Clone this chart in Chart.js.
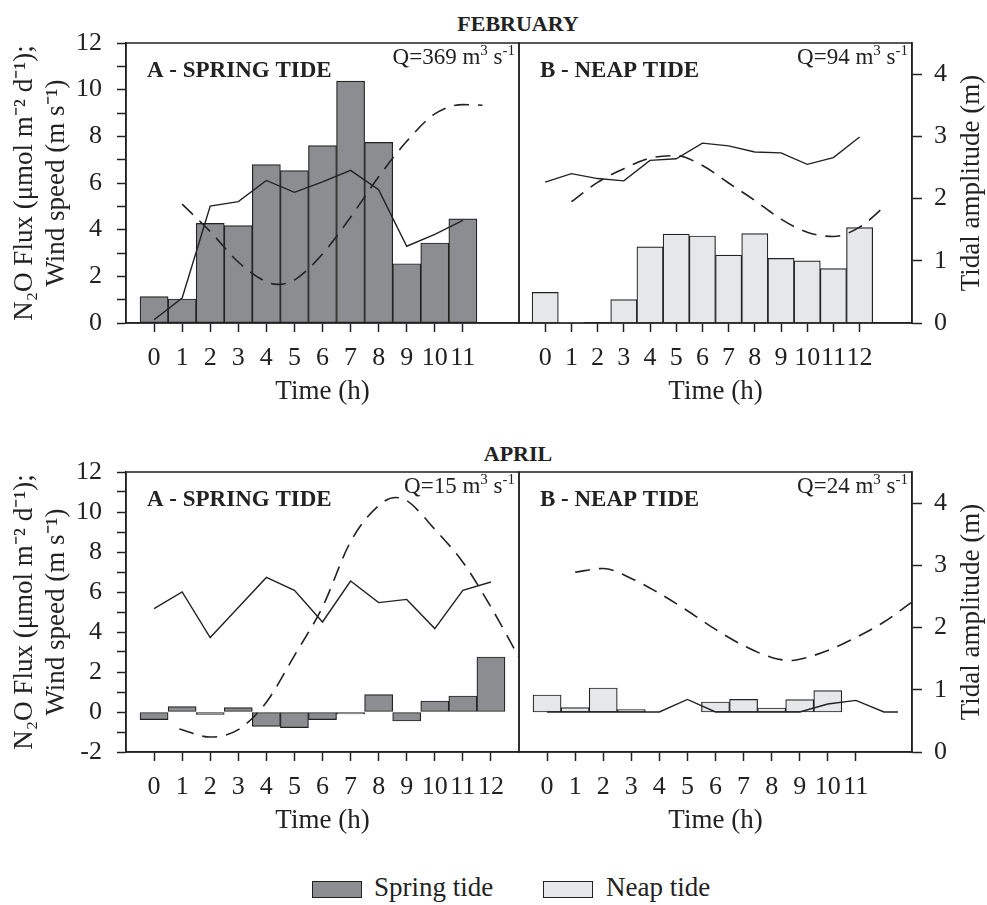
<!DOCTYPE html>
<html>
<head>
<meta charset="utf-8">
<script src="https://cdn.jsdelivr.net/npm/chart.js@4.4.1/dist/chart.umd.min.js"></script>
<style>
  body { margin: 0; background: #fff; }
  #fig { position: relative; width: 987px; height: 905px; overflow: hidden;
         font-family: 'Liberation Serif', 'Times New Roman', serif; color: #222; }
  canvas { position: absolute; }
  .month { position: absolute; font-weight: bold; font-size: 22px; line-height: 22px;
           transform: translateX(-50%); white-space: nowrap; }
  .key { position: absolute; width: 50px; height: 17px; border: 1.5px solid #222; box-sizing: border-box; }
  .keytxt { position: absolute; font-size: 27px; line-height: 27px; white-space: nowrap; }
</style>
</head>
<body>
<div id="fig">
  <div class="month" style="left:518px; top:13px">FEBRUARY</div>
  <div class="month" style="left:518px; top:443px">APRIL</div>
  <canvas id="febA" width="530" height="411" style="left:0; top:0"></canvas>
  <canvas id="febB" width="478" height="411" style="left:509px; top:0"></canvas>
  <canvas id="aprA" width="530" height="410" style="left:0; top:430px"></canvas>
  <canvas id="aprB" width="478" height="410" style="left:509px; top:430px"></canvas>
  <div class="key" style="left:312px; top:881px; background:#8c8d91"></div>
  <div class="keytxt" style="left:374px; top:874px">Spring tide</div>
  <div class="key" style="left:543px; top:881px; background:#e6e7e9"></div>
  <div class="keytxt" style="left:606px; top:874px">Neap tide</div>
</div>
<script>
const FONT = 'Liberation Serif';
const INK = '#222';
const SPRING_FILL = '#8c8d91';
const NEAP_FILL = '#e6e7e9';

// February - A, spring tide
const febSpringHours = [0, 1, 2, 3, 4, 5, 6, 7, 8, 9, 10, 11];
const febSpringFlux = [1.13, 1.03, 4.27, 4.17, 6.79, 6.53, 7.6, 10.37, 7.74, 2.54, 3.43, 4.46];
const febSpringWind = [0.14, 1.07, 5.01, 5.2, 6.11, 5.6, 6.05, 6.54, 5.71, 3.29, 3.8, 4.4];
const febSpringTideHours = [1, 2, 3, 4, 4.4, 5, 6, 7, 8, 9, 10, 11, 11.7];
const febSpringTide = [1.91, 1.47, 0.98, 0.66, 0.62, 0.69, 1.11, 1.7, 2.35, 2.92, 3.36, 3.51, 3.5];

// February - B, neap tide
const febNeapHours = [0, 1, 2, 3, 4, 5, 6, 7, 8, 9, 10, 11, 12];
const febNeapFlux = [1.31, 0.03, -0.04, 1.0, 3.26, 3.81, 3.73, 2.91, 3.83, 2.77, 2.66, 2.33, 4.09];
const febNeapWind = [6.04, 6.4, 6.19, 6.09, 6.97, 7.04, 7.71, 7.59, 7.33, 7.29, 6.8, 7.09, 7.97];
const febNeapTideHours = [1, 2, 3, 4, 5, 6, 7, 8, 9, 10, 11, 12, 13];
const febNeapTide = [1.95, 2.26, 2.48, 2.65, 2.69, 2.53, 2.25, 1.97, 1.67, 1.46, 1.39, 1.54, 1.89];

// April - A, spring tide
const aprSpringHours = [0, 1, 2, 3, 4, 5, 6, 7, 8, 9, 10, 11, 12];
const aprSpringFlux = [-0.38, 0.27, -0.12, 0.22, -0.72, -0.78, -0.38, -0.1, 0.87, -0.45, 0.55, 0.8, 2.75];
const aprSpringWind = [5.17, 6.0, 3.72, 5.22, 6.73, 6.08, 4.5, 6.55, 5.47, 5.63, 4.17, 6.08, 6.5];
const aprSpringTideHours = [0.9, 2, 3, 4, 5, 6, 7, 8, 8.6, 9, 10, 11, 12, 13];
const aprSpringTide = [0.37, 0.24, 0.36, 0.8, 1.55, 2.33, 3.38, 3.96, 4.09, 4.04, 3.58, 3.05, 2.33, 1.52];

// April - B, neap tide
const aprNeapHours = [0, 1, 2, 3, 4, 5, 6, 7, 8, 9, 10, 11];
const aprNeapFlux = [0.85, 0.22, 1.2, 0.12, 0, 0, 0.5, 0.63, 0.2, 0.62, 1.07, 0];
const aprNeapWindHours = [0, 1, 2, 3, 4, 5, 6, 7, 8, 9, 10, 11, 12, 12.5];
const aprNeapWind = [0, 0, 0, 0, 0, 0.63, 0, 0, 0, 0, 0.4, 0.58, 0, 0];
const aprNeapTideHours = [1, 2, 3, 4, 5, 6, 7, 8, 8.7, 9, 10, 11, 12, 13];
const aprNeapTide = [2.89, 2.95, 2.79, 2.55, 2.27, 1.97, 1.71, 1.52, 1.47, 1.49, 1.63, 1.84, 2.09, 2.41];

const tideTicks = [0, 1, 2, 3, 4];

const pts = (xs, ys) => xs.map((x, i) => ({ x: x, y: ys[i] }));

// box round the plot area
const framePlugin = {
  id: 'frame',
  afterDatasetsDraw(chart) {
    const { ctx, chartArea: a } = chart;
    ctx.save();
    ctx.strokeStyle = INK;
    ctx.lineWidth = 1.5;
    ctx.strokeRect(a.left, a.top, a.right - a.left, a.bottom - a.top);
    ctx.restore();
  }
};

// "A - SPRING TIDE", "Q=.. m3 s-1" and the rotated right axis title
const labelPlugin = {
  id: 'panelLabels',
  afterDraw(chart, args, opts) {
    const { ctx, chartArea: a } = chart;
    ctx.save();
    ctx.fillStyle = INK;
    ctx.textBaseline = 'alphabetic';
    ctx.textAlign = 'left';
    ctx.font = 'bold 23px ' + FONT;
    ctx.fillText(opts.name, a.left + 21, a.top + 34);

    const parts = [[opts.q + ' m', false], ['3', true], [' s', false], ['-1', true]];
    const fontFor = sup => (sup ? '15px ' : '23px ') + FONT;
    let w = 0;
    parts.forEach(p => { ctx.font = fontFor(p[1]); w += ctx.measureText(p[0]).width; });
    let x = a.right - 4 - w;
    const base = a.top + 21;
    parts.forEach(p => {
      ctx.font = fontFor(p[1]);
      ctx.fillText(p[0], x, p[1] ? base - 9 : base);
      x += ctx.measureText(p[0]).width;
    });

    if (opts.rightTitle) {
      const s = chart.scales.y2;
      ctx.translate(s.right - 15, (a.top + a.bottom) / 2);
      ctx.rotate(-Math.PI / 2);
      ctx.textAlign = 'center';
      ctx.textBaseline = 'middle';
      ctx.font = '27px ' + FONT;
      ctx.fillText(opts.rightTitle, 0, 0);
    }
    ctx.restore();
  }
};

function panel(id, p) {
  const left = p.side === 'left';
  const tickFont = { family: FONT, size: 26 };
  const yScale = {
    display: left,
    position: 'left',
    min: p.yMin,
    max: 12,
    grid: { drawOnChartArea: false, tickLength: 9, tickColor: INK, tickWidth: 1.5 },
    border: { display: true, color: INK, width: 1.5 },
    ticks: { stepSize: 1, autoSkip: false, padding: 15, color: INK, font: tickFont,
             callback: v => (v % 2 === 0 ? v : '') },
    title: { display: true, color: INK, padding: { top: 9, bottom: 0 },
             font: { family: FONT, size: 27, lineHeight: 1.18 },
             text: ['N\u2082O Flux (\u03bcmol m\u207b\u00b2 d\u207b\u00b9);', 'Wind speed (m s\u207b\u00b9)'] }
  };
  if (left) yScale.afterFit = s => { s.width = 126; };

  const y2Scale = {
    display: !left,
    position: 'right',
    min: 0,
    max: 4.5,
    afterBuildTicks: s => { s.ticks = tideTicks.map(v => ({ value: v })); },
    grid: { drawOnChartArea: false, tickLength: 10, tickColor: INK, tickWidth: 1.5 },
    border: { display: true, color: INK, width: 1.5 },
    ticks: { autoSkip: false, padding: 12, color: INK, font: tickFont }
  };
  if (!left) y2Scale.afterFit = s => { s.width = 75; };

  return new Chart(document.getElementById(id), {
    type: 'bar',
    data: {
      datasets: [
        {
          type: 'line', label: 'Wind speed', yAxisID: 'y', order: 1,
          data: pts(p.windHours || p.hours, p.wind),
          borderColor: INK, borderWidth: 1.4, pointRadius: 0, tension: 0
        },
        {
          type: 'line', label: 'Tidal amplitude', yAxisID: 'y2', order: 1, clip: false,
          data: pts(p.tideHours, p.tide),
          borderColor: INK, borderWidth: 1.6, borderDash: [15, 9], pointRadius: 0,
          cubicInterpolationMode: 'monotone'
        },
        {
          type: 'bar', label: p.barLabel, yAxisID: 'y', order: 2,
          data: pts(p.hours, p.flux),
          backgroundColor: p.fill, borderColor: INK, borderWidth: 1.2, borderSkipped: false,
          barPercentage: 1, categoryPercentage: 1
        }
      ]
    },
    options: {
      responsive: false,
      animation: false,
      events: [],
      layout: { padding: { top: p.top, bottom: 0, left: left ? 0 : 10, right: left ? 11 : 0 } },
      plugins: {
        legend: { display: false },
        tooltip: { enabled: false },
        panelLabels: { name: p.name, q: p.q, rightTitle: left ? null : 'Tidal amplitude (m)' }
      },
      scales: {
        x: {
          type: 'linear', min: -1, max: p.xMax, offset: false,
          afterBuildTicks: s => { s.ticks = p.hours.map(v => ({ value: v })); },
          afterFit: s => { s.height = 88; },
          grid: { drawOnChartArea: false, offset: false, tickLength: 9, tickColor: INK, tickWidth: 1.5 },
          border: { display: true, color: INK, width: 1.5 },
          ticks: { stepSize: 1, autoSkip: false, maxRotation: 0, minRotation: 0, padding: 11,
                   color: INK, font: tickFont },
          title: { display: true, text: 'Time (h)', color: INK, padding: { top: 0, bottom: 3 },
                   font: { family: FONT, size: 27 } }
        },
        y: yScale,
        y2: y2Scale
      }
    },
    plugins: [framePlugin, labelPlugin]
  });
}

panel('febA', { side: 'left', top: 43, yMin: 0, xMax: 13, name: 'A - SPRING TIDE', q: 'Q=369',
  hours: febSpringHours, flux: febSpringFlux, wind: febSpringWind,
  tideHours: febSpringTideHours, tide: febSpringTide, fill: SPRING_FILL, barLabel: 'Spring tide' });

panel('febB', { side: 'right', top: 43, yMin: 0, xMax: 14, name: 'B - NEAP TIDE', q: 'Q=94',
  hours: febNeapHours, flux: febNeapFlux, wind: febNeapWind,
  tideHours: febNeapTideHours, tide: febNeapTide, fill: NEAP_FILL, barLabel: 'Neap tide' });

panel('aprA', { side: 'left', top: 42, yMin: -2, xMax: 13, name: 'A - SPRING TIDE', q: 'Q=15',
  hours: aprSpringHours, flux: aprSpringFlux, wind: aprSpringWind,
  tideHours: aprSpringTideHours, tide: aprSpringTide, fill: SPRING_FILL, barLabel: 'Spring tide' });

panel('aprB', { side: 'right', top: 42, yMin: -2, xMax: 13, name: 'B - NEAP TIDE', q: 'Q=24',
  hours: aprNeapHours, flux: aprNeapFlux, windHours: aprNeapWindHours, wind: aprNeapWind,
  tideHours: aprNeapTideHours, tide: aprNeapTide, fill: NEAP_FILL, barLabel: 'Neap tide' });
</script>
</body>
</html>
